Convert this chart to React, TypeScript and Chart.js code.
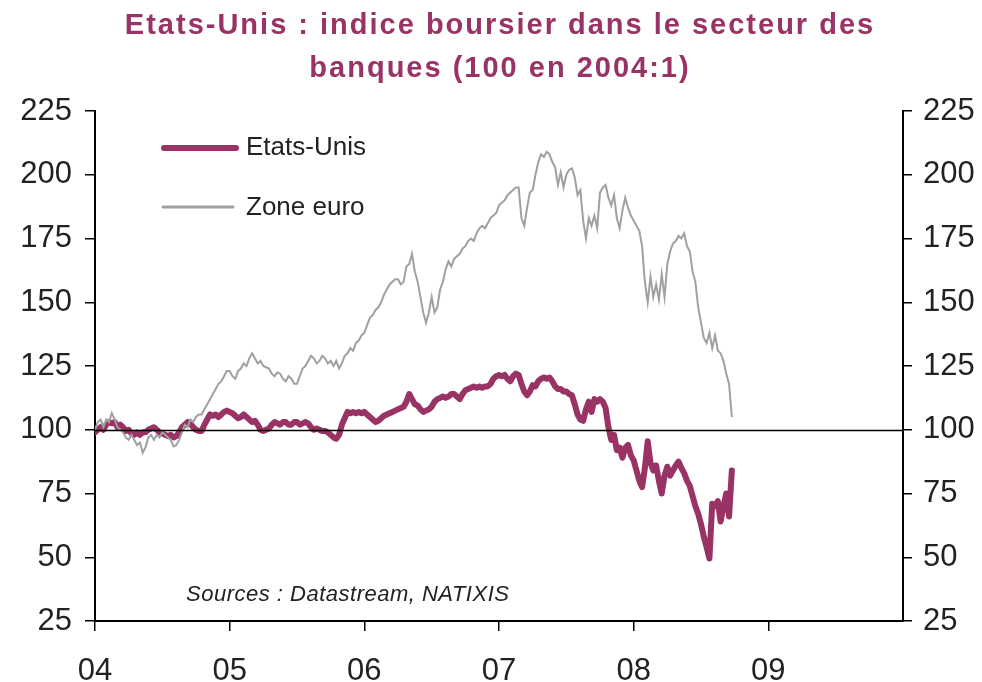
import React, { useEffect, useRef } from 'react';
import { Chart, registerables } from 'chart.js';

Chart.register(...registerables);

const TITLE_LINES = ['Etats-Unis : indice boursier dans le secteur des', 'banques (100 en 2004:1)'];
const SERIES_NAMES = ['Etats-Unis', 'Zone euro'];
const SOURCE_TEXT = 'Sources : Datastream, NATIXIS';
const X_TICKS = [2004, 2005, 2006, 2007, 2008, 2009];
const X_LABELS = ['04', '05', '06', '07', '08', '09'];
const Y_MIN = 25;
const Y_MAX = 225;
const Y_STEP = 25;
const START_YEAR = 2004;
const STEP = 1 / 48; // weekly-ish observations

const US = [
  99, 100, 101, 100, 102, 103, 102.5, 103, 101, 102,
  101, 99.5, 100, 98.5, 98, 99, 98, 99, 99, 100,
  100.5, 101, 100, 99, 98.5, 98, 97.5, 98, 97, 97.5,
  99, 101, 102, 103, 102.5, 101, 100, 99.5, 99.5, 102,
  104, 106, 105.5, 106, 105, 106, 107, 107.5, 107, 106.5,
  105.5, 104.5, 105, 106, 105, 104, 103, 103.5, 102, 100,
  99.5, 100, 100.5, 102, 103, 102.5, 102, 103, 103, 102,
  102, 103, 103, 102, 102.5, 103, 102.5, 101, 100, 100.5,
  100, 99.5, 99.5, 99, 98, 97, 96.5, 98, 102, 104.5,
  107, 106.5, 107, 106.5, 107, 106.5, 107, 106, 105, 104,
  103, 103.5, 104.5, 105.5, 106, 106.5, 107, 107.5, 108, 108.5,
  109, 111, 114, 112, 110, 109.5, 108, 107, 107.5, 108,
  109, 111, 112, 112.5, 113, 112.5, 113, 114, 114, 113,
  112, 114, 115.5, 116, 116.5, 117, 116.5, 117, 116.5, 117,
  117, 118, 120, 121, 121.5, 121, 121.5, 120, 119, 121,
  122, 121.5, 118, 115, 113.5, 115, 117.5, 117, 119, 120,
  120.5, 120, 120.5, 119, 117, 116, 116, 115, 115, 114,
  113.5, 110, 106, 104, 103.5, 108, 111, 107, 112, 111,
  112, 111, 108.5, 101, 96, 98, 92, 93, 89, 93,
  94, 90, 88, 84, 80, 77.5, 85, 95.5, 87, 84,
  86, 80, 75, 82, 85.5, 82, 84, 86, 87.5, 85,
  83, 80, 78, 74, 70, 67, 63, 58, 54, 49.5,
  71, 70, 72, 64, 70, 75, 66, 84,
];

const EURO = [
  100, 103, 104, 101, 104, 103, 106.5, 104, 101, 100,
  99, 97, 96, 98, 96, 94, 95, 91, 93, 97,
  98, 96, 98, 97, 99, 98, 97, 96, 93.5, 94,
  96, 99, 102, 101, 104, 103, 105, 106, 106, 108,
  110, 112, 114, 116, 118, 119, 121, 123, 123, 121,
  120, 123, 124, 126, 125, 128, 130, 128, 126, 127,
  125, 124.5, 124, 122, 121, 122.5, 122, 120, 119, 121,
  120, 118, 118, 121, 124, 125, 127, 129, 128, 126,
  127, 129, 128, 126, 127, 125, 127, 124, 126, 129,
  130, 132, 131, 134, 135, 137, 138, 141, 144, 145,
  147, 148, 150, 153, 155, 157, 158, 159, 159, 157,
  158, 164, 165, 169, 162, 158, 152, 146, 142, 146,
  152, 146, 148, 155, 158, 163, 166, 164, 167, 168,
  169, 171, 172, 174, 175, 174, 177, 179, 180, 179,
  181, 183, 184, 185, 188, 189, 190, 192, 193, 194,
  195, 195, 183, 180, 187, 193, 194, 200, 205, 208,
  207, 209, 208, 205, 203, 196, 201, 195, 200, 202,
  202.5, 199, 192, 194, 182, 175, 183, 180, 184, 179,
  193, 195, 196, 191, 188, 192, 183, 179, 186, 191,
  187, 184, 182, 180, 178, 172, 158, 150, 160, 152,
  157, 151, 161, 152, 165, 170, 173, 174, 176, 175,
  177, 172, 170, 162, 158, 148, 142, 136, 134, 138,
  132, 137, 131, 130, 127, 122, 118, 105,
];

const PURPLE = '#993366';
const GREY = '#A0A0A0';
const TEXT = '#222222';
const FONT = '"Liberation Sans", Arial, sans-serif';

const toPoints = (arr: number[]) => arr.map((v, i) => ({ x: START_YEAR + i * STEP, y: v }));

const overlayPlugin = {
  id: 'overlay',
  afterDatasetsDraw(chart: any) {
    const { ctx, chartArea, scales } = chart;
    const y100 = Math.round(scales.y.getPixelForValue(100)) + 0.5;
    ctx.save();
    ctx.strokeStyle = '#000';
    ctx.lineWidth = 1.5;
    ctx.beginPath();
    ctx.moveTo(chartArea.left, y100);
    ctx.lineTo(chartArea.right, y100);
    ctx.stroke();
    ctx.restore();
  },
  afterDraw(chart: any) {
    const { ctx, chartArea } = chart;
    const cx = (chartArea.left + chartArea.right) / 2;
    ctx.save();
    // title
    ctx.fillStyle = PURPLE;
    ctx.font = `bold 29px ${FONT}`;
    (ctx as any).letterSpacing = '2px';
    ctx.textAlign = 'center';
    ctx.textBaseline = 'alphabetic';
    ctx.fillText(TITLE_LINES[0], cx + 1, 34);
    ctx.fillText(TITLE_LINES[1], cx + 1, 77);
    (ctx as any).letterSpacing = '0px';

    // legend
    const lx = chartArea.left;
    ctx.lineCap = 'round';
    ctx.strokeStyle = PURPLE;
    ctx.lineWidth = 6;
    ctx.beginPath();
    ctx.moveTo(lx + 69, 148);
    ctx.lineTo(lx + 141, 148);
    ctx.stroke();
    ctx.strokeStyle = GREY;
    ctx.lineWidth = 3;
    ctx.beginPath();
    ctx.moveTo(lx + 68, 207);
    ctx.lineTo(lx + 138, 207);
    ctx.stroke();
    ctx.fillStyle = TEXT;
    ctx.font = `26px ${FONT}`;
    ctx.textAlign = 'left';
    ctx.fillText(SERIES_NAMES[0], lx + 151, 155);
    ctx.fillText(SERIES_NAMES[1], lx + 151, 215);

    // source
    ctx.font = `italic 22px ${FONT}`;
    (ctx as any).letterSpacing = '0.5px';
    ctx.fillText(SOURCE_TEXT, lx + 91, 601);
    (ctx as any).letterSpacing = '0px';
    ctx.restore();
  },
};

export default function App() {
  const ref = useRef<HTMLCanvasElement | null>(null);

  useEffect(() => {
    document.body.style.margin = '0';
    if (!ref.current) return;
    const tickFont = { family: FONT, size: 31 };
    const chart = new Chart(ref.current, {
      type: 'line',
      data: {
        datasets: [
          {
            label: SERIES_NAMES[0],
            data: toPoints(US),
            borderColor: PURPLE,
            backgroundColor: PURPLE,
            borderWidth: 6,
            pointRadius: 0,
            tension: 0,
            borderJoinStyle: 'round',
            borderCapStyle: 'round',
            order: 1,
            yAxisID: 'y',
          },
          {
            label: SERIES_NAMES[1],
            data: toPoints(EURO),
            borderColor: GREY,
            backgroundColor: GREY,
            borderWidth: 2,
            pointRadius: 0,
            tension: 0,
            order: 0,
            yAxisID: 'y',
          },
        ],
      },
      options: {
        animation: false,
        responsive: false,
        layout: { padding: { top: 111, left: 0, right: 0, bottom: 0 } },
        plugins: {
          legend: { display: false },
          tooltip: { enabled: false },
          title: { display: false },
        },
        scales: {
          x: {
            type: 'linear',
            min: 2004,
            max: 2010,
            position: 'bottom',
            afterBuildTicks: (s: any) => {
              s.ticks = X_TICKS.map((v) => ({ value: v }));
            },
            afterFit: (s: any) => {
              s.height = 61;
            },
            ticks: {
              autoSkip: false,
              maxRotation: 0,
              font: tickFont,
              color: TEXT,
              padding: 22,
              callback: (_v: any, i: number) => X_LABELS[i],
            },
            grid: { drawOnChartArea: false, drawTicks: true, tickLength: 10, color: '#000', lineWidth: 1.5 },
            border: { color: '#000', width: 2 },
          },
          y: {
            type: 'linear',
            position: 'left',
            min: Y_MIN,
            max: Y_MAX,
            afterFit: (s: any) => {
              s.width = 95;
            },
            ticks: { stepSize: Y_STEP, font: tickFont, color: TEXT, padding: 13 },
            grid: { drawOnChartArea: false, drawTicks: true, tickLength: 10, color: '#000', lineWidth: 1.5 },
            border: { color: '#000', width: 2 },
          },
          y2: {
            type: 'linear',
            position: 'right',
            min: Y_MIN,
            max: Y_MAX,
            afterFit: (s: any) => {
              s.width = 79;
            },
            ticks: { stepSize: Y_STEP, font: tickFont, color: TEXT, padding: 11 },
            grid: { drawOnChartArea: false, drawTicks: true, tickLength: 9, color: '#000', lineWidth: 1.5 },
            border: { color: '#000', width: 2 },
          },
        },
      },
      plugins: [overlayPlugin],
    } as any);
    return () => chart.destroy();
  }, []);

  return <canvas ref={ref} width={982} height={682} style={{ display: 'block' }} />;
}
